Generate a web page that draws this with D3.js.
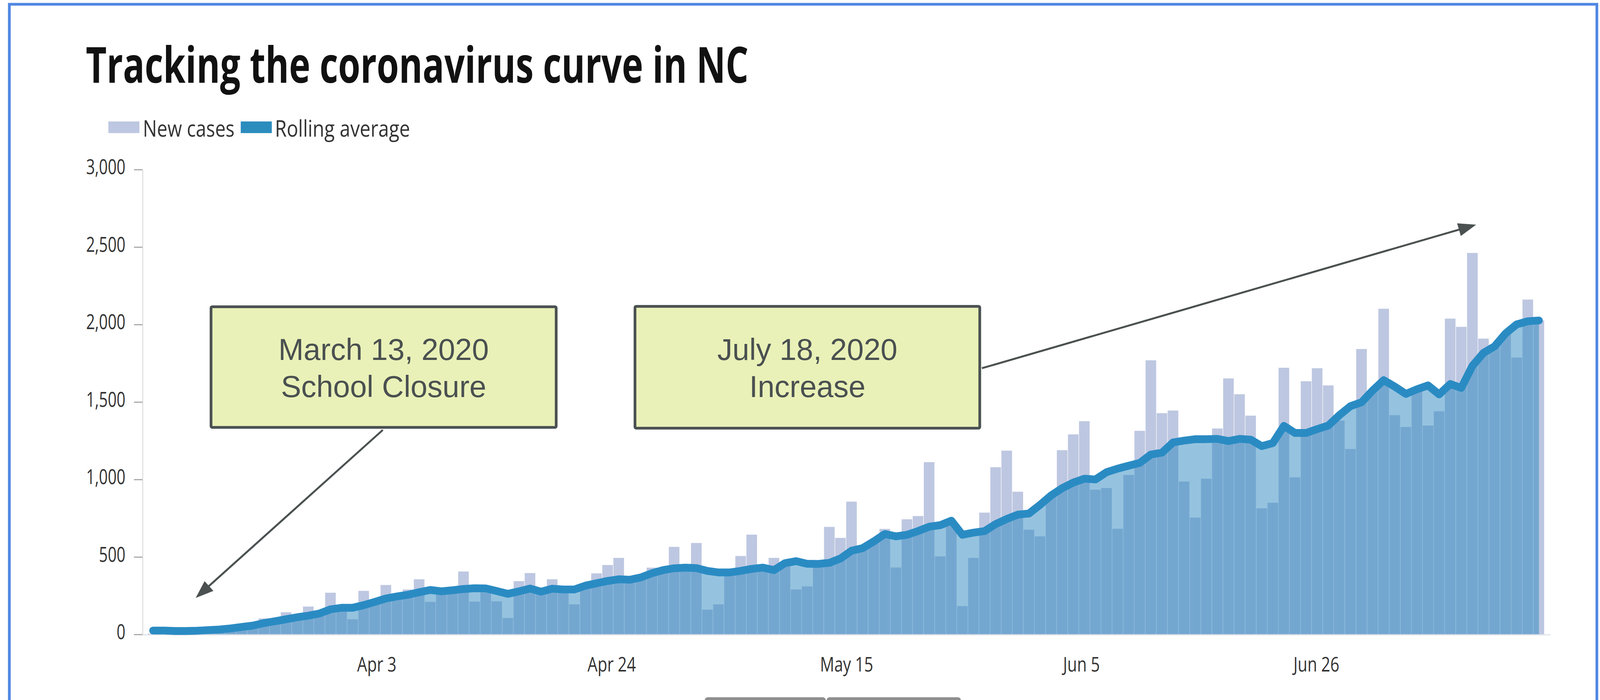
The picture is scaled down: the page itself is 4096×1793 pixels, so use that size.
<!DOCTYPE html>
<html><head><meta charset="utf-8">
<script src="https://cdn.jsdelivr.net/npm/d3@7"></script>
<style>html,body{margin:0;padding:0;background:#fff;overflow:hidden}</style>
</head><body>
<script>
// ---------------- data ----------------
const startDate = "2020-03-13";
const newCases = [
  5,10,8,18,22,30,35,40,45,55,
  103,85,143,110,180,135,269,170,98,281,
  212,319,248,290,356,210,278,285,406,212,
  297,214,106,344,396,276,356,290,194,315,
  394,448,494,353,368,431,415,565,431,590,
  160,194,400,506,644,431,494,460,290,310,
  455,694,623,857,557,600,681,432,743,764,
  1112,504,734,183,494,786,1079,1186,921,676,
  633,897,1189,1291,1376,934,945,682,1029,1314,
  1769,1428,1445,987,754,1005,1329,1652,1550,1412,
  814,850,1721,1014,1634,1718,1607,1380,1197,1842,
  1574,2102,1415,1339,1582,1348,1440,2038,1985,2462,
  1909,1859,1943,1787,2161,2026
];
const rollingAvg = [
  25,25,22,22,24,28,32,39,48,57,
  73,85,98,111,121,135,162,172,172,189,
  210,232,245,256,272,287,278,285,293,298,
  297,280,262,278,296,276,295,290,290,315,
  330,345,356,353,368,395,415,427,431,428,
  410,400,400,410,423,431,415,460,473,456,
  455,462,490,540,557,600,648,633,643,667,
  695,705,734,643,657,667,712,745,773,780,
  836,897,944,980,1005,1000,1047,1070,1089,1107,
  1161,1173,1239,1251,1260,1260,1262,1248,1262,1257,
  1215,1235,1346,1300,1300,1325,1348,1415,1473,1498,
  1574,1641,1599,1552,1582,1607,1549,1616,1591,1733,
  1817,1859,1943,2001,2021,2026
];
const yTickValues = [0, 500, 1000, 1500, 2000, 2500, 3000];
const xTickDates = ["2020-04-03", "2020-04-24", "2020-05-15", "2020-06-05", "2020-06-26"];
const titleText = "Tracking the coronavirus curve in NC";
const legendLabels = ["New cases", "Rolling average"];
const annotationLines = [["March 13, 2020", "School Closure"], ["July 18, 2020", "Increase"]];

// ---------------- layout ----------------
const W = 4121, H = 1804;
const C = {
  bar: "#bdc7e1", area: "rgba(43,135,191,0.5)", line: "#2a8bc3",
  boxFill: "#e9f1b8", boxStroke: "#4b5151", border: "#4f87e3"
};
const parse = d3.utcParse("%Y-%m-%d");
const t0 = parse(startDate);
const days = newCases.map((_, i) => d3.utcDay.offset(t0, i));
const data = days.map((d, i) => ({date: d, cases: newCases[i], avg: rollingAvg[i]}));
const tickDates = xTickDates.map(parse);

const svg = d3.select("body").append("svg")
  .attr("width", 4096).attr("height", 1793)
  .attr("viewBox", `0 0 ${W} ${H}`);

svg.append("rect").attr("width", W).attr("height", H).attr("fill", "#fff");

// bar scale (one band per day)
const x = d3.scaleUtc()
  .domain([t0, d3.utcDay.offset(t0, newCases.length)])
  .range([380, 3978]);
// axis scale of the original chart (its ticks are spaced a little wider than the bars)
const xAxisScale = d3.scaleUtc()
  .domain([tickDates[0], tickDates[tickDates.length - 1]])
  .range([970, 3390]);
const y = d3.scaleLinear().domain([0, 3000]).range([1635, 437]);
const bw = x(days[1]) - x(days[0]);

// frame
svg.append("rect").attr("x", 24).attr("y", 11).attr("width", 4089).attr("height", 1840)
  .attr("fill", "none").attr("stroke", C.border).attr("stroke-width", 7);

// title
svg.append("text").attr("x", 221).attr("y", 213)
  .attr("font-family", "'Open Sans', sans-serif").attr("font-weight", 700)
  .attr("font-size", 128).attr("fill", "#111")
  .attr("textLength", 1707).attr("lengthAdjust", "spacingAndGlyphs")
  .text(titleText);

// legend
const legend = svg.append("g").attr("font-family", "'Open Sans', sans-serif")
  .attr("font-size", 59).attr("fill", "#333");
const legItems = [
  {sx: 279, tx: 368, tl: 236, color: C.bar},
  {sx: 620, tx: 708, tl: 348, color: "#2b8cbe"}
];
legItems.forEach((it, i) => {
  legend.append("rect").attr("x", it.sx).attr("y", 313).attr("width", 80).attr("height", 30)
    .attr("fill", it.color);
  legend.append("text").attr("x", it.tx).attr("y", 352)
    .attr("textLength", it.tl).attr("lengthAdjust", "spacingAndGlyphs")
    .text(legendLabels[i]);
});

// y axis
const yAxis = svg.append("g").attr("transform", "translate(367,0)")
  .call(d3.axisLeft(y).tickValues(yTickValues).tickFormat(d3.format(","))
    .tickSize(22).tickSizeOuter(0).tickPadding(22));
yAxis.select(".domain").attr("stroke", "#e2e2e2").attr("stroke-width", 3);
yAxis.selectAll(".tick line").attr("stroke", "#a8a8a8").attr("stroke-width", 3);
const ySX = 0.75;
yAxis.selectAll(".tick text")
  .attr("font-family", "'Open Sans', sans-serif").attr("font-size", 53).attr("fill", "#333")
  .attr("x", -44 / ySX).attr("dy", "0.22em")
  .attr("transform", `scale(${ySX},1)`);

// bars
svg.append("g").selectAll("rect").data(data).join("rect")
  .attr("x", d => x(d.date) + 0.5)
  .attr("width", bw - 1.2)
  .attr("y", d => y(d.cases))
  .attr("height", d => y(0) - y(d.cases))
  .attr("fill", C.bar);

// area under rolling average
const cx = d => x(d.date) + bw / 2;
svg.append("path").datum(data)
  .attr("d", d3.area().x(cx).y0(y(0)).y1(d => y(d.avg)))
  .attr("fill", C.area);

// baseline
svg.append("line").attr("x1", 367).attr("x2", 3994).attr("y1", y(0) + 1).attr("y2", y(0) + 1)
  .attr("stroke", "#dfe3ea").attr("stroke-width", 3);

// rolling average line
svg.append("path").datum(data)
  .attr("d", d3.line().x(cx).y(d => y(d.avg)))
  .attr("fill", "none").attr("stroke", C.line).attr("stroke-width", 20)
  .attr("stroke-linejoin", "round").attr("stroke-linecap", "round");

// x axis
const xAxis = svg.append("g").attr("transform", `translate(0,${y(0)})`)
  .call(d3.axisBottom(xAxisScale).tickValues(tickDates).tickFormat(d3.utcFormat("%b %-d"))
    .tickSize(0).tickPadding(59));
xAxis.select(".domain").remove();
xAxis.selectAll(".tick text")
  .attr("font-family", "'Open Sans', sans-serif").attr("font-size", 51).attr("fill", "#333")
  .attr("transform", "scale(0.8,1)");

// annotations
const boxes = [
  {x0: 540, y0: 787, x1: 1436, y1: 1105},
  {x0: 1632, y0: 786, x1: 2527, y1: 1107}
];
const arrows = [
  {from: [986, 1108], to: [504, 1541]},
  {from: [2529, 949], to: [3802, 579]}
];
const ann = svg.append("g");
arrows.forEach(a => {
  const [x1, y1] = a.from, [x2, y2] = a.to;
  const dx = x2 - x1, dy = y2 - y1, L = Math.hypot(dx, dy);
  const ux = dx / L, uy = dy / L, hl = 46, hw = 17;
  const bx = x2 - ux * hl, by = y2 - uy * hl;
  ann.append("line").attr("x1", x1).attr("y1", y1).attr("x2", bx + ux * 4).attr("y2", by + uy * 4)
    .attr("stroke", C.boxStroke).attr("stroke-width", 5);
  ann.append("path")
    .attr("d", `M${x2},${y2}L${bx - uy * hw},${by + ux * hw}L${bx + uy * hw},${by - ux * hw}Z`)
    .attr("fill", C.boxStroke);
});
boxes.forEach((b, i) => {
  const sw = 7;
  ann.append("rect").attr("x", b.x0 + sw / 2).attr("y", b.y0 + sw / 2)
    .attr("width", b.x1 - b.x0 - sw).attr("height", b.y1 - b.y0 - sw)
    .attr("rx", 3).attr("fill", C.boxFill).attr("stroke", C.boxStroke).attr("stroke-width", sw);
  const cxm = (b.x0 + b.x1) / 2;
  annotationLines[i].forEach((t, j) => {
    ann.append("text").attr("x", cxm).attr("y", 928 + j * 95)
      .attr("text-anchor", "middle")
      .attr("font-family", "'Liberation Sans', Arial, sans-serif").attr("font-size", 78)
      .attr("fill", "#4a5050").text(t);
  });
});

// bottom gray toolbar fragment
svg.append("rect").attr("x", 1815).attr("y", 1797).attr("width", 312).attr("height", 30)
  .attr("rx", 8).attr("fill", "#8e8e8e");
svg.append("rect").attr("x", 2129).attr("y", 1797).attr("width", 346).attr("height", 30)
  .attr("rx", 8).attr("fill", "#8e8e8e");
</script>
</body></html>
